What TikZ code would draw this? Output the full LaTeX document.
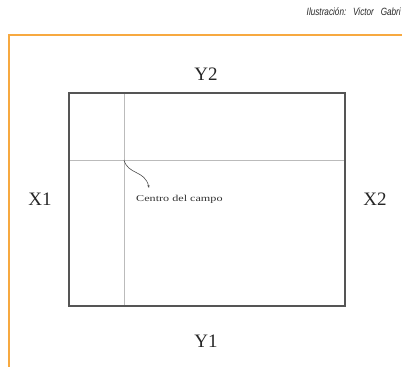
\documentclass[tikz,border=0pt]{standalone}
\usepackage{fontspec}
\setmainfont{Liberation Serif}
\newfontfamily\creditfont{Liberation Sans}
\usetikzlibrary{arrows.meta}
\definecolor{frameOrange}{HTML}{F7A940}
\definecolor{fieldGray}{HTML}{555555}
\definecolor{lineGray}{HTML}{BBBBBB}

\begin{document}
\begin{tikzpicture}[x=1pt, y=-1pt,
  side/.style={font=\fontsize{19}{19}\selectfont, text=black!85, inner sep=0pt},
  note/.style={font=\fontsize{9}{9}\selectfont, text=black!80, inner sep=0pt, anchor=west},
  credit/.style={font=\creditfont\itshape\fontsize{10.5}{10.5}\selectfont, text=black!85, inner sep=0pt, anchor=east}
]
\useasboundingbox (0,0) rectangle (402,367);
% marco naranja
\draw[frameOrange, line width=2pt] (9,367) -- (9,35) -- (402,35);
\node[credit] (cred) at (401,12) {\scalebox{0.78}[1]{Ilustración:\ \ \ Victor\ \ \ Gabri}};
% campo
\coordinate (ctr) at (124,160);
\draw[lineGray, line width=0.9pt] (124,93) -- (124,306);
\draw[lineGray, line width=0.9pt] (69,160) -- (345,160);
\draw[fieldGray, line width=1.8pt] (69,93) rectangle (345,306);
% etiquetas
\node[side] (y2) at (206,74) {Y2};
\node[side] (y1) at (206,341) {Y1};
\node[side] (x1) at (40,199) {X1};
\node[side] (x2) at (375,199) {X2};
\node[note] (centro) at (136,199) {\scalebox{1.35}[1]{Centro del campo}};
\draw[black!70, line width=0.6pt, -{Stealth[length=3pt]}] (ctr) .. controls (128,175) and (145,170) .. (149,188);
\end{tikzpicture}
\end{document}
